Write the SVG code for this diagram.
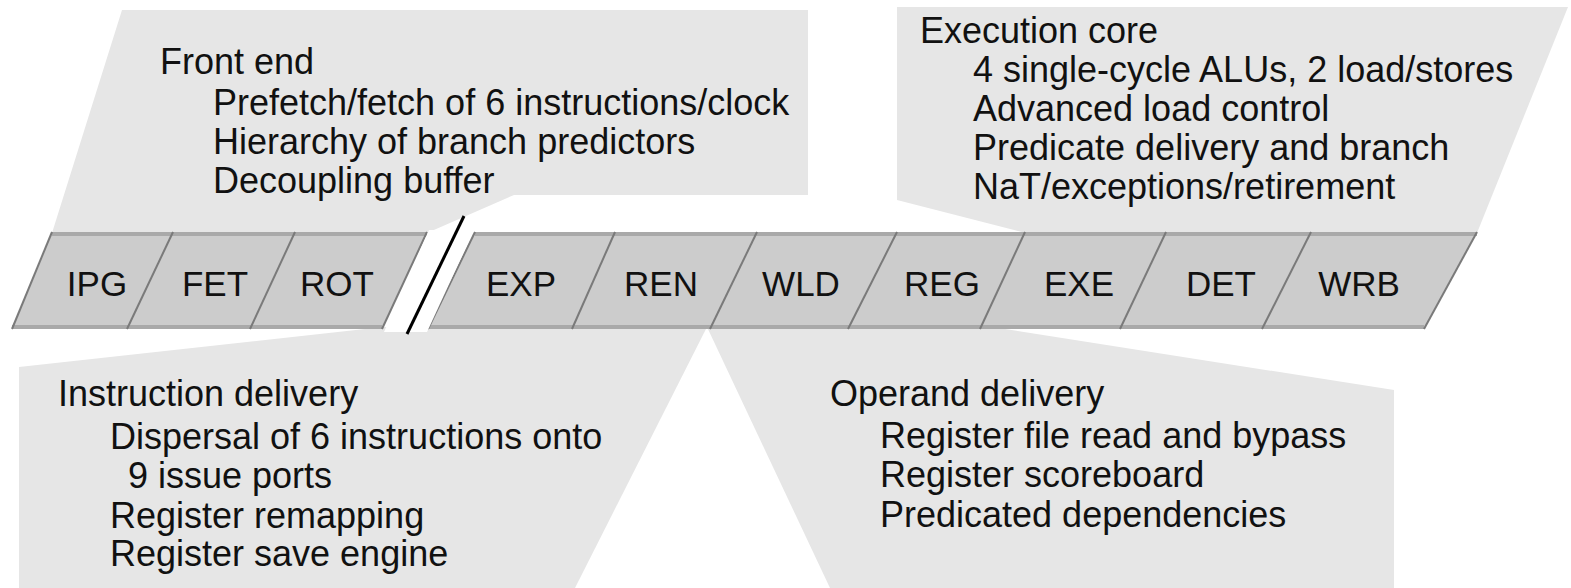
<svg xmlns="http://www.w3.org/2000/svg" width="1571" height="588" viewBox="0 0 1571 588">
<style>
.callout{fill:#e6e6e6;stroke:none}
.stage{fill:#cccccc;stroke:none}
.div{stroke:#7a7a7a;stroke-width:2;fill:none}
.edge{stroke:#a9a9a9;stroke-width:4;fill:none}
.t{font-family:"Liberation Sans",Arial,sans-serif;font-size:36px;fill:#111}
.lbl{font-family:"Liberation Sans",Arial,sans-serif;font-size:35px;fill:#111;text-anchor:middle}
</style>
<rect width="1571" height="588" fill="#ffffff"/>
<g id="front-end">
<polygon class="callout" points="122,10 808,10 808,195 514,195 427,233 52,233"/>
<text class="t" x="160" y="74">Front end</text>
<text class="t" x="213" y="115">Prefetch/fetch of 6 instructions/clock</text>
<text class="t" x="213" y="154">Hierarchy of branch predictors</text>
<text class="t" x="213" y="193">Decoupling buffer</text>
</g>
<g id="execution-core">
<polygon class="callout" points="897,7 1568,7 1477,233 1026,233 897,200"/>
<text class="t" x="920" y="43">Execution core</text>
<text class="t" x="973" y="82">4 single-cycle ALUs, 2 load/stores</text>
<text class="t" x="973" y="121">Advanced load control</text>
<text class="t" x="973" y="160">Predicate delivery and branch</text>
<text class="t" x="973" y="199">NaT/exceptions/retirement</text>
</g>
<g id="instruction-delivery">
<polygon class="callout" points="19,367 383,327 707,327 575,588 19,588"/>
<text class="t" x="58" y="406">Instruction delivery</text>
<text class="t" x="110" y="449">Dispersal of 6 instructions onto</text>
<text class="t" x="128" y="488">9 issue ports</text>
<text class="t" x="110" y="528">Register remapping</text>
<text class="t" x="110" y="566">Register save engine</text>
</g>
<g id="operand-delivery">
<polygon class="callout" points="707,327 992,327 1394,390 1394,588 830,588"/>
<text class="t" x="830" y="406">Operand delivery</text>
<text class="t" x="880" y="448">Register file read and bypass</text>
<text class="t" x="880" y="487">Register scoreboard</text>
<text class="t" x="880" y="527">Predicated dependencies</text>
</g>
<g id="pipeline">
<g id="stage-IPG"><polygon class="stage" points="52,232 173,232 127,329 12,329"/><text class="lbl" x="97" y="296">IPG</text></g>
<g id="stage-FET"><polygon class="stage" points="173,232 295,232 250,329 127,329"/><text class="lbl" x="215" y="296">FET</text></g>
<g id="stage-ROT"><polygon class="stage" points="295,232 427,232 382,329 250,329"/><text class="lbl" x="337" y="296">ROT</text></g>
<g id="stage-EXP"><polygon class="stage" points="475,232 615,232 572,329 428,329"/><text class="lbl" x="521" y="296">EXP</text></g>
<g id="stage-REN"><polygon class="stage" points="615,232 757,232 710,329 572,329"/><text class="lbl" x="661" y="296">REN</text></g>
<g id="stage-WLD"><polygon class="stage" points="757,232 897,232 848,329 710,329"/><text class="lbl" x="801" y="296">WLD</text></g>
<g id="stage-REG"><polygon class="stage" points="897,232 1025,232 980,329 848,329"/><text class="lbl" x="942" y="296">REG</text></g>
<g id="stage-EXE"><polygon class="stage" points="1025,232 1166,232 1120,329 980,329"/><text class="lbl" x="1079" y="296">EXE</text></g>
<g id="stage-DET"><polygon class="stage" points="1166,232 1311,232 1262,329 1120,329"/><text class="lbl" x="1221" y="296">DET</text></g>
<g id="stage-WRB"><polygon class="stage" points="1311,232 1477,232 1424,329 1262,329"/><text class="lbl" x="1359" y="296">WRB</text></g>
<g id="strip-lines">
<line class="edge" x1="52" y1="234" x2="427" y2="234"/>
<line class="edge" x1="12" y1="327" x2="382" y2="327"/>
<line class="edge" x1="475" y1="234" x2="1477" y2="234"/>
<line class="edge" x1="428" y1="327" x2="1424" y2="327"/>
<line class="div" x1="52" y1="232" x2="12" y2="329"/>
<line class="div" x1="173" y1="232" x2="127" y2="329"/>
<line class="div" x1="295" y1="232" x2="250" y2="329"/>
<line class="div" x1="427" y1="232" x2="382" y2="329"/>
<line class="div" x1="475" y1="232" x2="428" y2="329"/>
<line class="div" x1="615" y1="232" x2="572" y2="329"/>
<line class="div" x1="757" y1="232" x2="710" y2="329"/>
<line class="div" x1="897" y1="232" x2="848" y2="329"/>
<line class="div" x1="1025" y1="232" x2="980" y2="329"/>
<line class="div" x1="1166" y1="232" x2="1120" y2="329"/>
<line class="div" x1="1311" y1="232" x2="1262" y2="329"/>
<line class="div" x1="1477" y1="232" x2="1424" y2="329"/>
</g>
</g>
<g id="break">
<polygon fill="#ffffff" points="384,332 427,332 474,230 429,230"/>
<line x1="464" y1="216" x2="407" y2="334" stroke="#000000" stroke-width="3"/>
</g>
<g id="connectors"/>
</svg>
